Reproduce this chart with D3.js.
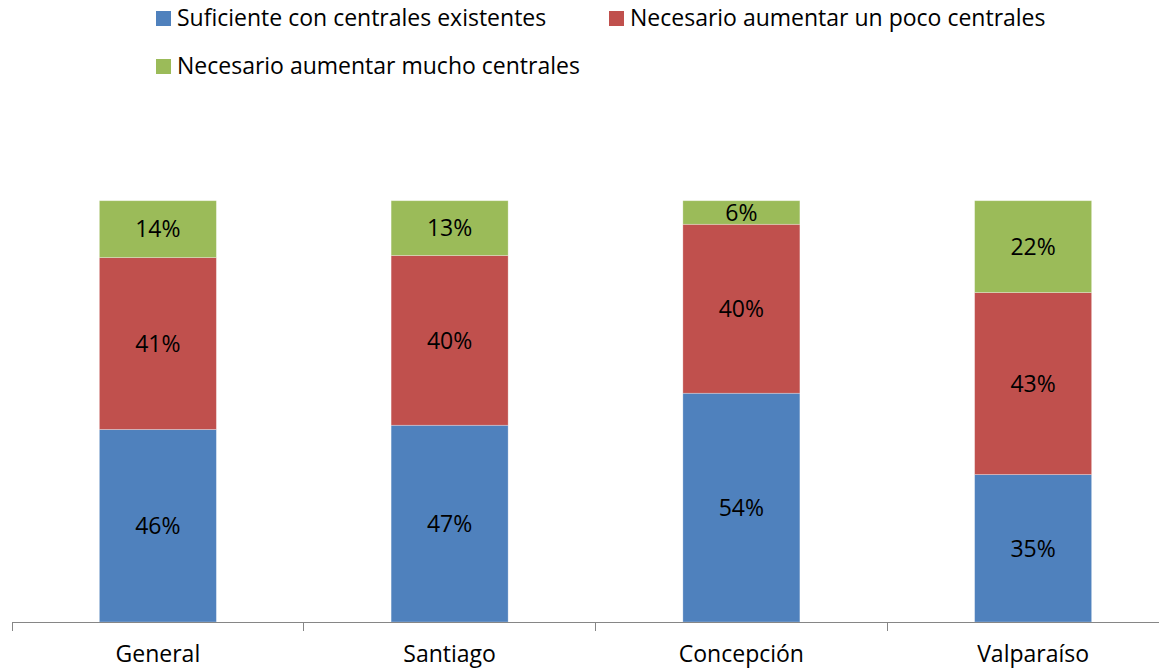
<!DOCTYPE html>
<html>
<head>
<meta charset="utf-8">
<style>
body{ margin:0; background:#fff; }
text{ font-family: "Open Sans", "Lato", sans-serif; fill:#000; }
.axis path, .axis line{ stroke:#868686; stroke-width:1px; shape-rendering:crispEdges; }
</style>
</head>
<body>
<script src="https://cdn.jsdelivr.net/npm/d3@7"></script>
<script>
  var WIDTH = 1159;
  var HEIGHT = 669;

  // values (percent of each bar)
  var categories = ["General", "Santiago", "Concepción", "Valparaíso"];
  var seriesNames = ["Suficiente con centrales existentes", "Necesario aumentar un poco centrales", "Necesario aumentar mucho centrales"];
  var colors = ["#4f81bd", "#c0504d", "#9bbb59"];
  var suficiente = [45.7, 46.7, 54.3, 35.0];
  var pocoMas = [40.8, 40.3, 40.1, 43.2];
  var muchoMas = [13.5, 13.0, 5.6, 21.8];

  var rows = categories.map((c, i) => ({cat: c, s0: suficiente[i], s1: pocoMas[i], s2: muchoMas[i]}));
  var stack = d3.stack().keys(["s0", "s1", "s2"]).offset(d3.stackOffsetExpand);
  var series = stack(rows);

  var xScale = d3.scaleBand()
    .domain(categories)
    .range([12, 1179]);

  var barW = 117;
  var FONT = "23px";

  var yScale = d3.scaleLinear()
    .domain([0, 1])
    .range([622, 200.7]);

  var svg = d3.select("body").append("svg")
    .attr("width", WIDTH)
    .attr("height", HEIGHT);

  // bars
  var layers = svg.append("g").attr("class", "bars")
    .selectAll("g")
    .data(series)
    .enter()
    .append("g")
      .attr("fill", (d, i) => colors[i]);

  layers.selectAll("rect")
    .data(d => d)
    .enter()
    .append("rect")
      .attr("x", d => xScale(d.data.cat) + (xScale.bandwidth() - barW) / 2)
      .attr("y", d => yScale(d[1]))
      .attr("width", barW)
      .attr("height", d => yScale(d[0]) - yScale(d[1]))
      .attr("stroke", "#fff")
      .attr("stroke-opacity", 0.35)
      .attr("stroke-width", 0.8);

  // labels
  layers.selectAll("text")
    .data(d => d.map(v => Object.assign(v, {key: d.key})))
    .enter()
    .append("text")
      .attr("x", d => xScale(d.data.cat) + xScale.bandwidth() / 2)
      .attr("y", d => yScale((d[0] + d[1]) / 2))
      .attr("dy", "0.36em")
      .attr("text-anchor", "middle")
      .style("font-size", FONT)
      .text(d => Math.round(d.data[d.key]) + "%");

  // x axis
  var xAxis = d3.axisBottom(xScale).tickSize(0).tickFormat(d => d);
  var axisG = svg.append("g")
    .attr("class", "axis")
    .attr("transform", "translate(0,622)")
    .call(xAxis);
  axisG.select(".domain").attr("d", "M12,0H1179");
  axisG.selectAll(".tick text")
    .attr("y", 40)
    .attr("dy", 0)
    .style("font-size", FONT)
    .style("fill", "#000");

  // category separators
  axisG.selectAll("line.sep")
    .data(categories)
    .enter()
    .append("line")
      .attr("class", "sep")
      .attr("x1", d => xScale(d))
      .attr("x2", d => xScale(d))
      .attr("y1", 0)
      .attr("y2", 9);

  // legend
  var legendPos = [[156, 11], [609, 11], [156, 59]];
  var legend = svg.append("g").attr("class", "legend")
    .selectAll("g")
    .data(seriesNames)
    .enter()
    .append("g")
      .attr("transform", (d, i) => `translate(${legendPos[i][0]},${legendPos[i][1]})`);

  legend.append("rect")
    .attr("width", 15)
    .attr("height", 15)
    .attr("fill", (d, i) => colors[i]);

  legend.append("text")
    .attr("x", 21)
    .attr("y", 15)
    .style("font-size", FONT)
    .text(d => d);
</script>
</body>
</html>
